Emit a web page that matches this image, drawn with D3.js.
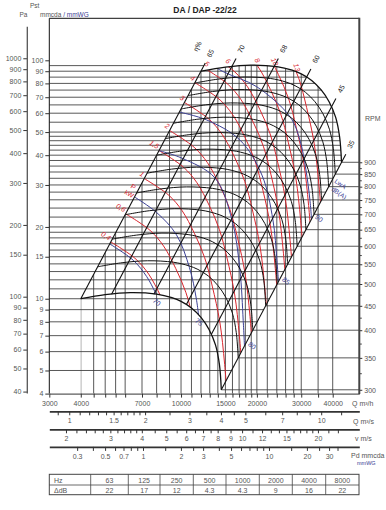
<!DOCTYPE html>
<html>
<head>
<meta charset="utf-8">
<script src="https://cdn.jsdelivr.net/npm/d3@7"></script>
<style>
body { margin: 0; background: #fff; }
text { font-family: 'Liberation Sans Narrow', 'Liberation Sans', Arial, sans-serif; }
</style>
</head>
<body>
<svg id="chart" width="386" height="510"></svg>
<script>
// ---- data ----
var qLabels = [3000, 4000, 7000, 10000, 15000, 20000, 30000, 40000];
var qGrid = [3000, 4000, 4500, 5000, 5500, 6000, 7000, 8000, 9000, 10000, 11000, 12000, 13000, 14000,
    15000, 16000, 17000, 18000, 19000, 20000, 22000, 24000, 26000, 28000, 30000, 35000, 40000];
var pGrid = [95, 90, 85, 80, 75, 70, 65, 60, 55, 50, 48, 46, 44, 42, 40, 38, 36, 34, 32, 30, 28, 26, 24,
    22, 20, 19, 18, 17, 16, 15, 14, 13, 12, 11, 10, 9, 8, 7, 6, 5];
var paTicks = [1000, 900, 800, 700, 600, 500, 400, 300, 200, 150, 100, 90, 80, 70, 60, 50, 40];
var mmTicks = [100, 90, 80, 70, 60, 50, 40, 30, 20, 15, 10, 9, 8, 7, 6, 5, 4];
var rpmValues = [300, 350, 400, 450, 500, 550, 600, 650, 700, 750, 800, 850, 900];
var rpmMinor = [325, 375, 425, 475, 525, 575, 625, 675, 725, 775, 825, 875];

// fan curve at 300 rpm (m3/h, mmWG)
var fanQ300 = [4000, 5000, 6300, 8000, 9200, 10000, 11000, 12000, 12900, 13700, 14200, 14450];
var fanP300 = [10, 10.4, 10.6, 10.45, 10.1, 9.75, 9.15, 8.35, 7.45, 6.4, 5.3, 4.15];

// efficiency lines: point where each meets the 300 rpm curve
var effLabels = ['65', '70', '68', '60', '45', '35'];
var effQ = [4000, 5300, 7800, 10500, 13200, 14450];
var effP = [10, 10.45, 10.45, 9.45, 7.1, 4.15];

// shaft power lines (kW): 1 kW curve, and pressure where each line leaves the left edge
var powerLabels = ['0,4', '0,6', '1', '1,5', '2', '3', '4', '5', '6', '8', '10', '13'];
var powerStartP = [17.3, 22.7, 31.9, 41.8, 50.7, 66.5, 80.5, 93.4, 105.5, 128, 148, 179];
var powerQ1 = [7150, 8000, 9000, 10100, 11300, 12400, 13300, 14250, 14900, 15450];
var powerP1 = [31.9, 29.6, 27.0, 23.4, 18.8, 14.9, 11.3, 8.0, 5.3, 3.2];

// sound power lines LwA dB(A)
var noiseLabels = ['70', '75', '80', '85', '90'];
var noiseQ70 = [5200, 6460, 7300, 7880, 8250];
var noiseP70 = [17.0, 14.5, 12.4, 10.7, 9.7];
var noiseQ75 = [6540, 8000, 9600, 10800, 11500, 11900];
var noiseP75 = [26.7, 23.0, 18.5, 13.5, 10.0, 7.5];
var noiseQ80 = [8030, 10060, 13640, 15930, 17130, 17650, 17900];
var noiseP80 = [42, 38.9, 32.1, 21.4, 13.2, 8.1, 6.0];
var noiseQ85 = [9800, 12640, 17130, 20950, 23160, 24020, 24470];
var noiseP85 = [60.7, 56.2, 46.3, 33.0, 21.4, 14.5, 10.9];
var noiseQ90 = [11890, 14710, 19960, 27060, 29640, 31320, 32480, 33090];
var noiseP90 = [102.2, 89.6, 77.5, 58.0, 46.3, 34.7, 25.9, 20.4];

var qsLabels = [1, 1.5, 2, 3, 4, 5, 7, 10];
var qsTicks = [0.9, 1, 1.1, 1.2, 1.3, 1.4, 1.5, 1.6, 1.7, 1.8, 1.9, 2, 2.5, 3, 3.5, 4, 4.5, 5, 6, 7, 8, 9, 10, 12];
var vLabels = [2, 3, 4, 5, 6, 7, 8, 9, 10, 12, 15, 20];
var vTicks = [2, 2.2, 2.4, 2.6, 2.8, 3, 3.2, 3.4, 3.6, 3.8, 4, 4.5, 5, 5.5, 6, 6.5, 7, 7.5, 8, 9, 10, 11, 12,
    13, 14, 15, 16, 17, 18, 19, 20, 22, 24];
var pdLabels = [0.3, 0.5, 0.7, 1, 2, 3, 5, 10, 20, 30];
var pdTicks = [0.3, 0.4, 0.5, 0.6, 0.7, 0.8, 0.9, 1, 1.5, 2, 2.5, 3, 4, 5, 6, 7, 8, 9, 10, 15, 20, 25, 30, 35];
var outletArea = 0.4853;   // m2, so that 2 m/s sits at 3494 m3/h

var bandHz = ['63', '125', '250', '500', '1000', '2000', '4000', '8000'];
var bandDb = ['22', '17', '12', '4.3', '4.3', '9', '16', '22'];

// ---- layout ----
var svg = d3.select('#chart');
var gray = '#555';
var ink = '#222';
var red = '#d8262e';
var blue = '#3c4094';
var plot = {l: 49.3, r: 359.3, t: 18.3, b: 393.6};

var x = d3.scaleLog().domain([3000, 51000]).range([plot.l, plot.r]);
var y = d3.scaleLog().domain([4, 100]).range([plot.b, 60.3]);
var yPa = d3.scaleLog().domain([4 * 9.80665, 100 * 9.80665]).range([plot.b, 60.3]);

var curve = d3.line().curve(d3.curveCatmullRom.alpha(0.5));

function affine(qs, ps, k) {
    return qs.map(function(q, i) { return [x(q * k), y(ps[i] * k * k)]; });
}

function samplePts(pts, n) {
    var p = svg.append('path').attr('d', curve(pts)).attr('fill', 'none');
    var node = p.node(), len = node.getTotalLength(), out = [];
    for (var i = 0; i <= n; i++) {
        var pt = node.getPointAtLength(len * i / n);
        out.push([pt.x, pt.y]);
    }
    p.remove();
    return out;
}

function atY(a, b, yy) {
    var t = (yy - a[1]) / (b[1] - a[1]);
    return [a[0] + t * (b[0] - a[0]), yy];
}

var rpmMax = rpmValues[rpmValues.length - 1];
var low = samplePts(affine(fanQ300, fanP300, 1), 160);
var high = samplePts(affine(fanQ300, fanP300, rpmMax / 300), 160);
var L0 = low[0], L1 = high[0], R0 = low[low.length - 1], R1 = high[high.length - 1];

var envelope = high.concat(low.slice().reverse());
var hPoly = [[plot.l, plot.t], atY(L0, L1, plot.t)].concat(high, [atY(R0, R1, plot.b), [plot.l, plot.b]]);
var vPoly = [[L0[0], plot.b], L0].concat(high, [[R1[0], plot.b]]);

var defs = svg.append('defs');
function addClip(id, poly) {
    defs.append('clipPath').attr('id', id)
        .append('path').attr('d', 'M' + poly.join('L') + 'Z');
}
addClip('envClip', envelope);
addClip('hClip', hPoly);
addClip('vClip', vPoly);

// ---- grid ----
svg.append('g').attr('clip-path', 'url(#hClip)')
    .selectAll('line').data(pGrid).enter().append('line')
    .attr('x1', plot.l).attr('x2', plot.r)
    .attr('y1', function(d) { return y(d); }).attr('y2', function(d) { return y(d); })
    .attr('stroke', '#3a3a3a').attr('stroke-width', 0.85);

svg.append('g').attr('clip-path', 'url(#vClip)')
    .selectAll('line').data(qGrid.filter(function(d) { return d >= 4000; })).enter().append('line')
    .attr('x1', function(d) { return x(d); }).attr('x2', function(d) { return x(d); })
    .attr('y1', plot.b).attr('y2', plot.t)
    .attr('stroke', '#3a3a3a').attr('stroke-width', 0.85);

// rpm reading lines, from the right edge of the fan field to the rpm axis
var pEnd = fanP300[fanP300.length - 1];
var yR = d3.scaleLog().domain([300, 900]).range([y(pEnd), y(pEnd * 9)]);
svg.append('g').selectAll('line').data(rpmValues).enter().append('line')
    .attr('x1', function(d) { return atY(R0, R1, yR(d))[0]; })
    .attr('x2', plot.r)
    .attr('y1', function(d) { return yR(d); }).attr('y2', function(d) { return yR(d); })
    .attr('stroke', '#3a3a3a').attr('stroke-width', 0.85);

// ---- red power lines ----
var gRed = svg.append('g');
powerLabels.forEach(function(lab, i) {
    var k = Math.sqrt(powerStartP[i] / powerP1[0]);
    var pts = affine(powerQ1, powerP1, k);
    gRed.append('path').attr('d', curve(pts)).attr('clip-path', 'url(#envClip)')
        .attr('fill', 'none').attr('stroke', red).attr('stroke-width', 1);
    var s = samplePts(pts, 200);
    var i0 = 0;
    while (i0 < s.length && !d3.polygonContains(envelope, s[i0])) i0++;
    if (i0 >= s.length) return;
    var p = s[i0], q = s[Math.min(i0 + 6, s.length - 1)];
    var ang = Math.atan2(q[1] - p[1], q[0] - p[0]) * 180 / Math.PI;
    var t = gRed.append('text').attr('fill', red).attr('font-size', 7).attr('font-style', 'italic');
    if (i0 === 0) {
        t.attr('text-anchor', 'end')
            .attr('transform', 'translate(' + (p[0] - 2) + ',' + (p[1] - 1.5) + ') rotate(' + ang + ')');
    } else {
        t.attr('text-anchor', 'middle')
            .attr('transform', 'translate(' + (p[0] - 2) + ',' + (p[1] - 4) + ') rotate(' + ang + ')');
    }
    t.text(lab);
});
// "P kW" caption on the left edge between 0,6 and 1
var capP = [x(4000 * Math.sqrt(2.8)), y(28)];
gRed.append('text').attr('fill', red).attr('font-size', 7).attr('text-anchor', 'end')
    .attr('transform', 'translate(' + (capP[0] - 3) + ',' + (capP[1] - 2) + ') rotate(30)').text('P');
gRed.append('text').attr('fill', red).attr('font-size', 6.5).attr('text-anchor', 'end')
    .attr('transform', 'translate(' + (capP[0] - 5) + ',' + (capP[1] + 6) + ') rotate(30)').text('kW');

// ---- blue noise lines ----
var noiseQ = [noiseQ70, noiseQ75, noiseQ80, noiseQ85, noiseQ90];
var noiseP = [noiseP70, noiseP75, noiseP80, noiseP85, noiseP90];
var gBlue = svg.append('g');
noiseLabels.forEach(function(lab, i) {
    var pts = affine(noiseQ[i], noiseP[i], 1);
    gBlue.append('path').attr('d', curve(pts)).attr('clip-path', 'url(#envClip)')
        .attr('fill', 'none').attr('stroke', blue).attr('stroke-width', 1);
    var s = samplePts(pts, 200);
    var i0 = 0;
    while (i0 < s.length && !d3.polygonContains(envelope, s[i0])) i0++;
    var i1 = i0;
    while (i1 + 1 < s.length && d3.polygonContains(envelope, s[i1 + 1])) i1++;
    var p = s[i1];
    var onDiag = Math.abs(atY(R0, R1, p[1])[0] - p[0]) < 3;
    var dx = onDiag ? 6 : -1, dy = onDiag ? 2 : 10;
    gBlue.append('text').attr('fill', blue).attr('font-size', 7).attr('text-anchor', 'middle')
        .attr('transform', 'translate(' + (p[0] + dx) + ',' + (p[1] + dy) + ') rotate(40)')
        .text(lab);
});
var lwaAt = atY(R0, R1, R1[1] + 22);
gBlue.append('text').attr('fill', blue).attr('font-size', 6.5)
    .attr('transform', 'translate(' + (lwaAt[0] + 4) + ',' + (lwaAt[1] - 2) + ') rotate(35)').text('LwA');
gBlue.append('text').attr('fill', blue).attr('font-size', 6.5)
    .attr('transform', 'translate(' + (lwaAt[0] + 1) + ',' + (lwaAt[1] + 6) + ') rotate(35)').text('dB(A)');

// ---- fan curves ----
svg.append('g').selectAll('path').data(rpmValues).enter().append('path')
    .attr('d', function(d) { return curve(affine(fanQ300, fanP300, d / 300)); })
    .attr('fill', 'none').attr('stroke', '#111')
    .attr('stroke-width', function(d, i) { return (i === 0 || i === rpmValues.length - 1) ? 1.3 : 1; });

// ---- efficiency lines (system parabolas) ----
var gEff = svg.append('g');
effLabels.forEach(function(lab, i) {
    var a = [x(effQ[i]), y(effP[i])];
    var kEnd = 3.12, kLab = 3.27;
    var b = [x(effQ[i] * kEnd), y(effP[i] * kEnd * kEnd)];
    var c = [x(effQ[i] * kLab), y(effP[i] * kLab * kLab)];
    var ang = Math.atan2(b[1] - a[1], b[0] - a[0]) * 180 / Math.PI;
    gEff.append('line').attr('x1', a[0]).attr('y1', a[1]).attr('x2', b[0]).attr('y2', b[1])
        .attr('stroke', '#111').attr('stroke-width', 1.1);
    gEff.append('text').attr('fill', ink).attr('font-size', 7).attr('text-anchor', 'middle')
        .attr('dy', '0.35em')
        .attr('transform', 'translate(' + c[0] + ',' + c[1] + ') rotate(' + ang + ')').text(lab);
    if (i === 0) {
        gEff.append('text').attr('fill', ink).attr('font-size', 7).attr('text-anchor', 'middle')
            .attr('dy', '0.35em')
            .attr('transform', 'translate(' + (c[0] - 13) + ',' + (c[1] - 7) + ') rotate(' + ang + ')')
            .text('\u03b7%');
    }
});

// ---- frame and axes ----
svg.append('line').attr('x1', plot.l).attr('x2', plot.r).attr('y1', plot.t).attr('y2', plot.t)
    .attr('stroke', '#111').attr('stroke-width', 1);
svg.append('line').attr('x1', plot.l).attr('x2', plot.l).attr('y1', plot.t).attr('y2', plot.b)
    .attr('stroke', '#111').attr('stroke-width', 1);

function styleAxis(g, w) {
    g.selectAll('text').attr('fill', gray).attr('font-size', 7)
        .attr('font-family', "'Liberation Sans Narrow', 'Liberation Sans', Arial, sans-serif");
    g.selectAll('.tick line').attr('stroke', '#333');
    g.select('.domain').attr('stroke', '#333').attr('stroke-width', w);
}

// mmWG axis
var gMm = svg.append('g').attr('transform', 'translate(' + plot.l + ',0)')
    .call(d3.axisLeft(y).tickValues(mmTicks).tickSize(4).tickSizeOuter(0).tickPadding(2)
        .tickFormat(d3.format('d')));
gMm.select('.domain').remove();
styleAxis(gMm, 1);

// Pa axis
var gPa = svg.append('g').attr('transform', 'translate(27.3,0)')
    .call(d3.axisLeft(yPa).tickValues(paTicks).tickSize(4).tickSizeOuter(0).tickPadding(2)
        .tickFormat(d3.format('d')));
gPa.select('.domain').remove();
styleAxis(gPa, 1);
svg.append('line').attr('x1', 27.3).attr('x2', 27.3).attr('y1', 26.7).attr('y2', plot.b)
    .attr('stroke', '#555').attr('stroke-width', 1.3);

// RPM axis
var gRpm = svg.append('g').attr('transform', 'translate(' + plot.r + ',0)')
    .call(d3.axisRight(yR).tickValues(rpmValues).tickSize(3).tickPadding(2).tickFormat(d3.format('d')));
gRpm.select('.domain').remove();
styleAxis(gRpm, 1);
svg.append('g').attr('transform', 'translate(' + plot.r + ',0)')
    .call(d3.axisRight(yR).tickValues(rpmMinor).tickSize(2.5).tickFormat(''))
    .call(function(g) { g.select('.domain').remove(); g.selectAll('line').attr('stroke', '#444'); });
svg.append('line').attr('x1', plot.r).attr('x2', plot.r).attr('y1', plot.t - 0.5).attr('y2', plot.b + 0.5)
    .attr('stroke', '#444').attr('stroke-width', 2);

// Q m3/h axis
var gQ = svg.append('g').attr('transform', 'translate(0,' + plot.b + ')')
    .call(d3.axisBottom(x).tickValues(qGrid).tickSize(4).tickSizeOuter(0).tickPadding(3.5)
        .tickFormat(function(d) { return qLabels.indexOf(d) >= 0 ? d : ''; }));
styleAxis(gQ, 1);

// scales below the chart
var xQs = d3.scaleLog().domain([3000 / 3600, 51000 / 3600]).range([plot.l, plot.r]);
var xV = d3.scaleLog().domain([3000 / 3600 / outletArea, 51000 / 3600 / outletArea]).range([plot.l, plot.r]);
var xPd = d3.scaleLog().domain(xV.domain().map(function(v) { return 1.2 * v * v / (2 * 9.81); }))
    .range([plot.l, plot.r]);

function scaleRow(scale, yy, ticks, labels) {
    var g = svg.append('g').attr('transform', 'translate(0,' + yy + ')')
        .call(d3.axisBottom(scale).tickValues(ticks).tickSize(4).tickSizeOuter(0).tickPadding(3)
            .tickFormat(function(d) { return labels.indexOf(d) >= 0 ? String(d) : ''; }));
    styleAxis(g, 1.7);
    return g;
}
scaleRow(xQs, 411.3, qsTicks, qsLabels);
scaleRow(xV, 429.3, vTicks, vLabels);
scaleRow(xPd, 446.9, pdTicks, pdLabels);

var unit = svg.append('g').attr('fill', gray).attr('font-size', 7);
unit.append('text').attr('x', 352).attr('y', 405.8).text('Q m\u00b3/h');
unit.append('text').attr('x', 353).attr('y', 423.6).text('Q m\u00b3/s');
unit.append('text').attr('x', 355).attr('y', 441.3).text('v m/s');
unit.append('text').attr('x', 351).attr('y', 458.4).text('Pd mmcda');
unit.append('text').attr('x', 357).attr('y', 464.6).attr('font-size', 5.5).attr('fill', blue).text('mmWG');
unit.append('text').attr('x', 365).attr('y', 121).text('RPM');

// axis captions top-left
var cap = svg.append('g').attr('fill', gray).attr('font-size', 6.5);
cap.append('text').attr('x', 30).attr('y', 7.5).text('Pst');
cap.append('text').attr('x', 19.5).attr('y', 16.5).text('Pa');
var mmCap = cap.append('text').attr('x', 40).attr('y', 16.5);
mmCap.append('tspan').text('mmcda ');
mmCap.append('tspan').attr('fill', blue).text('/ mmWG');

// title
svg.append('text').attr('x', 205).attr('y', 12.5).attr('text-anchor', 'middle')
    .attr('font-size', 8.5).attr('font-weight', 'bold').attr('fill', '#222')
    .attr('font-family', "'Liberation Sans', Arial, sans-serif")
    .text('DA / DAP -22/22');

// ---- octave band table ----
var colX = [49.3, 90.7, 128.3, 160, 193.3, 226, 259.3, 292.3, 325.7, 359];
var rowY = [474.3, 485, 494.7];
var tbl = svg.append('g');
tbl.append('rect').attr('x', colX[0]).attr('y', rowY[0])
    .attr('width', colX[colX.length - 1] - colX[0]).attr('height', rowY[2] - rowY[0])
    .attr('fill', 'none').attr('stroke', '#444').attr('stroke-width', 1);
tbl.append('line').attr('x1', colX[0]).attr('x2', colX[colX.length - 1]).attr('y1', rowY[1]).attr('y2', rowY[1])
    .attr('stroke', '#444').attr('stroke-width', 0.8);
tbl.selectAll('.sep').data(colX.slice(1, -1)).enter().append('line')
    .attr('x1', function(d) { return d; }).attr('x2', function(d) { return d; })
    .attr('y1', rowY[0]).attr('y2', rowY[2]).attr('stroke', '#444').attr('stroke-width', 0.8);
tbl.append('text').attr('x', 54).attr('y', 482.5).attr('fill', gray).attr('font-size', 7).text('Hz');
tbl.append('text').attr('x', 54).attr('y', 492.5).attr('fill', gray).attr('font-size', 7).text('\u0394dB');
tbl.selectAll('.hz').data(bandHz).enter().append('text')
    .attr('x', function(d, i) { return (colX[i + 1] + colX[i + 2]) / 2; }).attr('y', 482.5)
    .attr('text-anchor', 'middle').attr('fill', gray).attr('font-size', 7).text(function(d) { return d; });
tbl.selectAll('.db').data(bandDb).enter().append('text')
    .attr('x', function(d, i) { return (colX[i + 1] + colX[i + 2]) / 2; }).attr('y', 492.5)
    .attr('text-anchor', 'middle').attr('fill', gray).attr('font-size', 7).text(function(d) { return d; });
</script>
</body>
</html>
